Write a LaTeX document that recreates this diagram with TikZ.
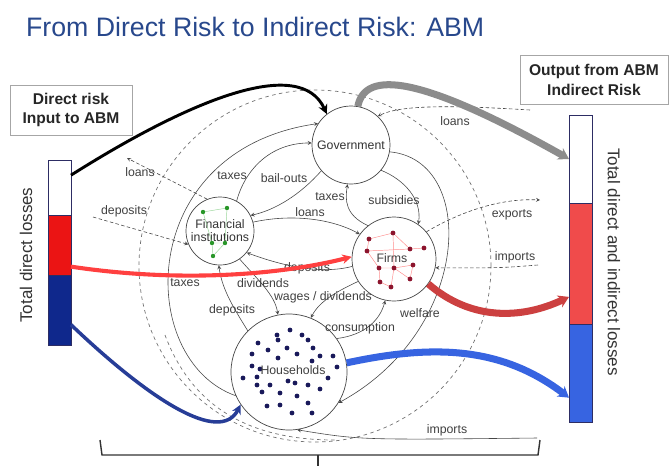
\documentclass[tikz,border=0pt]{standalone}
\usepackage{xcolor}
\usepackage{fontspec}
\setmainfont{Liberation Sans}
\usepackage{tikz}
\usetikzlibrary{positioning, arrows.meta}

\definecolor{titleblue}{RGB}{40,72,140}
\definecolor{barnavy}{RGB}{45,45,100}
\definecolor{lossred}{RGB}{235,20,20}
\definecolor{lossblue}{RGB}{15,40,140}
\definecolor{totalred}{RGB}{240,75,75}
\definecolor{totalblue}{RGB}{55,100,225}
\definecolor{flowgray}{RGB}{70,70,70}
\definecolor{hhdot}{RGB}{25,25,90}
\definecolor{firmdot}{RGB}{140,20,45}
\definecolor{findot}{RGB}{40,150,40}

\tikzstyle{agent} = [circle, draw=flowgray, fill=white, line width=0.6pt, inner sep=0pt, align=center, text=black!80, font=\fontsize{10.5}{11}\selectfont]
\tikzstyle{riskbox} = [rectangle, draw=black!35, line width=0.8pt, minimum width=3.66cm, minimum height=1.5cm, align=center, text=black!85, font=\fontsize{13.3}{17}\selectfont\bfseries]
\tikzstyle{barpart} = [rectangle, draw=barnavy, line width=0.8pt, minimum width=0.69cm, inner sep=0pt, outer sep=0pt]
\tikzstyle{flow} = [draw=flowgray, line width=0.5pt, -stealth]
\tikzstyle{worldflow} = [flow, dash pattern=on 3pt off 2pt]
\tikzstyle{flowtext} = [inner sep=1pt, text=black!75, font=\fontsize{10.5}{11}\selectfont]
\tikzstyle{caption} = [text=black!80, font=\fontsize{14.5}{16}\selectfont]

\begin{document}
\begin{tikzpicture}[x=0.03cm, y=0.03cm]
		\useasboundingbox (0,0) rectangle (670,-466);
		\node (Title)[anchor=base west, text=titleblue, font=\fontsize{22.8}{27}\selectfont] at (22,-36) {From Direct Risk to Indirect Risk: ABM};

		% boxes and loss bars
		\node (InputBox)[riskbox] at (71,-110) {Direct risk\\Input to ABM};
		\node (OutputBox)[riskbox, minimum width=4.44cm, minimum height=1.47cm] at (594,-80) {Output from ABM\\Indirect Risk};
		\node (LeftWhite)[barpart, fill=white, minimum height=1.65cm] at (59.5,-187.5) {};
		\node (LeftRed)[barpart, fill=lossred, minimum height=1.8cm, below=0pt of LeftWhite] {};
		\node (LeftBlue)[barpart, fill=lossblue, minimum height=2.1cm, below=0pt of LeftRed] {};
		\node (RightWhite)[barpart, fill=white, minimum height=2.64cm] at (580.5,-159) {};
		\node (RightRed)[barpart, fill=totalred, minimum height=3.63cm, below=0pt of RightWhite] {};
		\node (RightBlue)[barpart, fill=totalblue, minimum height=2.94cm, below=0pt of RightRed] {};
		\node (LeftCaption)[caption, rotate=90] at (26,-255) {Total direct losses};
		\node (RightCaption)[caption, rotate=-90] at (614,-262) {Total direct and indirect losses};

		% economy boundary
		\draw [dashed, black!55, line width=0.6pt] (315,-266) circle (176);
		\draw [dashed, black!55, line width=0.6pt] (165,-335) .. controls (195,-415) and (260,-440) .. (335,-440);

		% agents
		\node (Government)[agent, minimum size=2.34cm] at (351,-145) {Government};
		\node (FinInst)[agent, minimum size=2.04cm] at (220,-231) {Financial\\institutions};
		\node (Firms)[agent, minimum size=2.52cm] at (394,-259) {};
		\node (Households)[agent, minimum size=3.48cm] at (289,-372) {};

		\draw [green!60!black!40, line width=0.4pt] (203,-212) -- (227,-208) -- (225,-243) -- (213,-256) -- (212,-243) -- (203,-212) (212,-243) -- (225,-243);
		\foreach \x/\y in {203/212, 227/208, 212/243, 225/243, 213/256}
			\fill [findot] (\x,-\y) circle (2.2);

		\draw [red!45, line width=0.4pt] (369,-239) -- (393,-233) -- (410,-249) -- (424,-248) (369,-239) -- (367,-251) -- (379,-268) -- (394,-268) -- (413,-265) -- (410,-279) (367,-251) -- (410,-249) (394,-268) -- (391,-287) -- (380,-282) -- (379,-268) (394,-268) -- (410,-279) (393,-233) -- (394,-268);
		\foreach \x/\y in {393/233, 369/239, 367/251, 410/249, 424/248, 413/265, 379/268, 394/268, 380/282, 410/279, 391/287}
			\fill [firmdot] (\x,-\y) circle (2.4);
		\node (FirmsText)[flowtext] at (392,-258) {Firms};

		\foreach \x/\y in {290/330, 277/335, 302/335, 278/340, 308/340, 258/343, 268/350, 287/348, 313/348, 252/354, 297/354, 320/356, 333/356, 278/358, 312/361, 337/367, 252/366, 260/369, 243/378, 257/377, 328/378, 288/381, 295/383, 308/385, 270/385, 257/385, 262/392, 280/393, 297/396, 320/389, 308/403, 267/406, 280/405, 292/413, 312/413}
			\fill [hhdot] (\x,-\y) circle (2.4);
		\node (HouseholdsText)[flowtext] at (293,-370) {Households};

		% flows between agents
		\draw [flow] (Households.204) .. controls (135,-360) and (135,-150) .. (Government.147);
		\draw [flow] (FinInst.61) .. controls (245,-170) and (270,-143) .. (Government.177);
		\draw [flow] (Government.221) .. controls (300,-195) and (275,-210) .. (FinInst.27);
		\draw [flow] (FinInst.15) .. controls (290,-214) and (330,-218) .. (Firms.144);
		\draw [flow] (Firms.128) .. controls (345,-215) and (345,-200) .. (Government.265);
		\draw [flow] (Government.320) .. controls (405,-180) and (422,-200) .. (Firms.55);
		\draw [flow] (Firms.190) .. controls (320,-275) and (280,-265) .. (FinInst.321);
		\draw [flow] (FinInst.305) .. controls (258,-280) and (275,-295) .. (Households.101);
		\draw [flow] (Firms.212) .. controls (340,-290) and (320,-300) .. (Households.68);
		\draw [flow] (Households.135) .. controls (235,-310) and (222,-290) .. (FinInst.268);
		\draw [flow] (Households.35) .. controls (365,-335) and (380,-320) .. (Firms.258);
		\draw [flow] (Government.350) .. controls (478,-160) and (472,-330) .. (Households.328);

		% flows with the rest of the world
		\coordinate (LoansOut) at (127,-158);
		\coordinate (DepositsIn) at (93,-217);
		\coordinate (LoansIn) at (530,-110);
		\coordinate (ExportsOut) at (540,-200);
		\coordinate (ImportsIn) at (538,-265);
		\coordinate (ImportsHH) at (537,-438);
		\draw [worldflow] (FinInst.112) -- (LoansOut);
		\draw [worldflow] (DepositsIn) -- (FinInst.203);
		\draw [worldflow] (LoansIn) .. controls (450,-105) and (400,-105) .. (Government.47);
		\draw [worldflow] (Firms.40) .. controls (460,-212) and (500,-198) .. (ExportsOut);
		\draw [worldflow] (ImportsIn) .. controls (500,-268) .. (Firms.348);
		\draw [flow] (ImportsHH) .. controls (360,-440) .. (Households.278);

		% flow labels
		\node (L loans top)[flowtext] at (455,-121) {loans};
		\node (L loans left)[flowtext] at (140,-172) {loans};
		\node (L deposits left)[flowtext] at (124,-211) {deposits};
		\node (L taxes fin)[flowtext] at (232,-176) {taxes};
		\node (L bailouts)[flowtext] at (284,-178) {bail-outs};
		\node (L taxes firms)[flowtext] at (330,-197) {taxes};
		\node (L subsidies)[flowtext] at (394,-200) {subsidies};
		\node (L loans firms)[flowtext] at (310,-212) {loans};
		\node (L exports)[flowtext] at (512,-215) {exports};
		\node (L imports firms)[flowtext] at (515,-257) {imports};
		\node (L taxes hh)[flowtext] at (185,-283) {taxes};
		\node (L dividends)[flowtext] at (263,-283) {dividends};
		\node (L deposits firms)[flowtext] at (307,-268) {deposits};
		\node (L wages)[flowtext] at (323,-297) {wages / dividends};
		\node (L deposits hh)[flowtext] at (232,-310) {deposits};
		\node (L consumption)[flowtext] at (360,-328) {consumption};
		\node (L welfare)[flowtext] at (420,-313) {welfare};
		\node (L imports hh)[flowtext] at (447,-430) {imports};

		% risk propagation
		\draw [black, line width=2.5pt, -{Stealth[length=8pt, width=8pt]}] (LeftWhite.47) .. controls (190,-100) and (300,-55) .. (Government.128);
		\draw [black!45, line width=6pt, -{Stealth[length=9pt, width=11pt]}] (Government.80) .. controls (365,-70) and (420,-75) .. (RightWhite.west);
		\draw [red!75!white, line width=3.5pt, -{Stealth[length=8pt, width=8pt]}] (LeftRed.-62) .. controls (180,-283) and (280,-275) .. (Firms.177);
		\draw [totalred!85!black, line width=6pt, -{Stealth[length=9pt, width=11pt]}] (Firms.-36) .. controls (470,-320) and (520,-320) .. (RightRed.251);
		\draw [lossblue!90!white, line width=3pt, -{Stealth[length=8pt, width=8pt]}] (LeftBlue.-52) .. controls (150,-400) and (220,-445) .. (Households.214);
		\draw [totalblue, line width=6pt, -{Stealth[length=9pt, width=11pt]}] (Households.9) .. controls (430,-345) and (500,-345) .. (RightBlue.245);

		% bracket
		\draw [black!80, line width=1.2pt] (100,-440) -- (102,-455) -- (538,-455) -- (540,-440);
		\draw [black!80, line width=1.2pt] (318,-455) -- (318,-466);
	\end{tikzpicture}
\end{document}
